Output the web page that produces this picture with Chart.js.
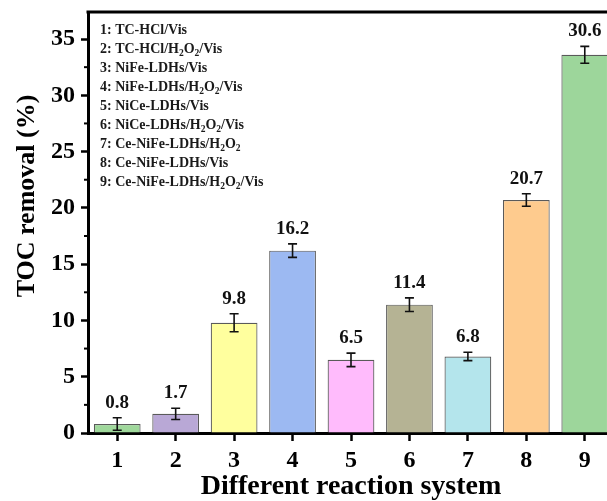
<!DOCTYPE html>
<html>
<head>
<meta charset="utf-8">
<script src="https://cdn.jsdelivr.net/npm/chart.js@4"></script>
<style>
    html, body { margin: 0; padding: 0; background: #fff; overflow: hidden; }
    #wrap { width: 616px; height: 501px; }
</style>
</head>
<body>
<div id="wrap"><canvas id="tocChart" width="616" height="501"></canvas></div>
<script>
/* ------- 数据 ------- */
const systems = ['1', '2', '3', '4', '5', '6', '7', '8', '9'];
const tocRemoval = [0.8, 1.7, 9.8, 16.2, 6.5, 11.4, 6.8, 20.7, 33.6];
const tocError = [0.56, 0.5, 0.8, 0.6, 0.6, 0.6, 0.37, 0.55, 0.75];
const valueLabels = ['0.8', '1.7', '9.8', '16.2', '6.5', '11.4', '6.8', '20.7', '30.6'];
const yTicks = [0, 5, 10, 15, 20, 25, 30, 35];
const yMinorTicks = [2.5, 7.5, 12.5, 17.5, 22.5, 27.5, 32.5];
const yTitle = 'TOC removal (%)';
const xTitle = 'Different reaction system';
const legendEntries = [
    '1: TC-HCl/Vis',
    '2: TC-HCl/H_2O_2/Vis',
    '3: NiFe-LDHs/Vis',
    '4: NiFe-LDHs/H_2O_2/Vis',
    '5: NiCe-LDHs/Vis',
    '6: NiCe-LDHs/H_2O_2/Vis',
    '7: Ce-NiFe-LDHs/H_2O_2',
    '8: Ce-NiFe-LDHs/Vis',
    '9: Ce-NiFe-LDHs/H_2O_2/Vis'
];
const barColors = ['#9fd89b', '#b9a8d6', '#ffff9e', '#9cb9f2', '#ffbbfc',
                   '#b5b394', '#b4e5ec', '#fecb8e', '#9dd69b'];

const SERIF = "'Liberation Serif', 'Times New Roman', serif";

/* 文字带下标：H_2O_2 */
function drawRich(ctx, text, x, y, size) {
    text.split(/(_\d)/).forEach(p => {
        if (!p) return;
        if (p[0] === '_') {
            ctx.font = `bold ${size * 0.68}px ${SERIF}`;
            ctx.fillText(p[1], x, y + size * 0.3);
            x += ctx.measureText(p[1]).width;
        } else {
            ctx.font = `bold ${size}px ${SERIF}`;
            ctx.fillText(p, x, y);
            x += ctx.measureText(p).width;
        }
    });
}

/* 误差棒、数值、图例、边框、Y 轴标题 */
const extras = {
    id: 'extras',
    afterDatasetsDraw(chart) {
        const { ctx, chartArea, scales: { x, y } } = chart;
        ctx.save();

        // 误差棒
        ctx.strokeStyle = '#111';
        ctx.lineWidth = 1.6;
        tocRemoval.forEach((v, i) => {
            const px = x.getPixelForValue(i);
            const hi = y.getPixelForValue(v + tocError[i]);
            const lo = y.getPixelForValue(v - tocError[i]);
            ctx.beginPath();
            ctx.moveTo(px, hi); ctx.lineTo(px, lo);
            ctx.moveTo(px - 4.5, hi); ctx.lineTo(px + 4.5, hi);
            ctx.moveTo(px - 4.5, lo); ctx.lineTo(px + 4.5, lo);
            ctx.stroke();
        });

        // 数值标签
        ctx.fillStyle = '#111';
        ctx.font = `bold 19px ${SERIF}`;
        ctx.textAlign = 'center';
        ctx.textBaseline = 'middle';
        tocRemoval.forEach((v, i) => {
            const px = x.getPixelForValue(i);
            const top = y.getPixelForValue(v + tocError[i]);
            ctx.fillText(valueLabels[i], px, top - 15);
        });

        // 图例文字
        ctx.textAlign = 'left';
        ctx.fillStyle = '#1a1a1a';
        legendEntries.forEach((t, i) => {
            drawRich(ctx, t, chartArea.left + 12, chartArea.top + 18 + i * 19, 14);
        });
        ctx.restore();
    },
    afterDraw(chart) {
        const { ctx, chartArea, scales: { y } } = chart;
        ctx.save();
        ctx.strokeStyle = '#000';
        ctx.lineWidth = 3;
        ctx.beginPath();
        ctx.moveTo(chartArea.left - 1.5, chartArea.top);
        ctx.lineTo(chartArea.right, chartArea.top);
        ctx.lineTo(chartArea.right, chartArea.bottom);
        ctx.stroke();

        // 次刻度
        ctx.lineWidth = 2;
        yMinorTicks.forEach(v => {
            const py = y.getPixelForValue(v);
            ctx.beginPath();
            ctx.moveTo(chartArea.left - 4, py);
            ctx.lineTo(chartArea.left, py);
            ctx.stroke();
        });

        // Y 轴标题（原图略偏上）
        ctx.translate(27, 196);
        ctx.rotate(-Math.PI / 2);
        ctx.fillStyle = '#000';
        ctx.font = `bold 26px ${SERIF}`;
        ctx.textAlign = 'center';
        ctx.textBaseline = 'middle';
        ctx.fillText(yTitle, 0, 0);
        ctx.restore();
    }
};

new Chart(document.getElementById('tocChart'), {
    type: 'bar',
    data: {
        labels: systems,
        datasets: [{
            data: tocRemoval,
            backgroundColor: barColors,
            borderColor: '#5a5a5a',
            borderWidth: 1.2,
            categoryPercentage: 1,
            barPercentage: 0.8
        }]
    },
    options: {
        responsive: false,
        animation: false,
        events: [],
        layout: { padding: { top: 12, right: 2, left: 0, bottom: 0 } },
        plugins: { legend: { display: false }, tooltip: { enabled: false } },
        scales: {
            x: {
                z: 1,
                offset: true,
                grid: {
                    offset: false,
                    drawOnChartArea: false,
                    tickLength: 8,
                    tickWidth: 2.5,
                    tickColor: '#000'
                },
                border: { display: true, color: '#000', width: 3 },
                ticks: {
                    color: '#000',
                    padding: 5,
                    font: { family: SERIF, size: 24, weight: 'bold' }
                },
                title: {
                    display: true,
                    text: xTitle,
                    color: '#000',
                    padding: 0,
                    font: { family: SERIF, size: 28, weight: 'bold', lineHeight: 1 }
                },
                afterFit: s => {
                    s.height = 68;
                    s.paddingLeft = 0;
                    s.paddingRight = 0;
                }
            },
            y: {
                z: 1,
                min: 0,
                max: 37.4,
                afterBuildTicks: s => { s.ticks = yTicks.map(v => ({ value: v })); },
                grid: {
                    drawOnChartArea: false,
                    tickLength: 7,
                    tickWidth: 2.5,
                    tickColor: '#000'
                },
                border: { display: true, color: '#000', width: 3 },
                ticks: {
                    color: '#000',
                    padding: 6,
                    font: { family: SERIF, size: 24, weight: 'bold' }
                },
                afterFit: s => {
                    s.width = 88;
                    s.paddingTop = 0;
                    s.paddingBottom = 0;
                }
            }
        }
    },
    plugins: [extras]
});
</script>
</body>
</html>
